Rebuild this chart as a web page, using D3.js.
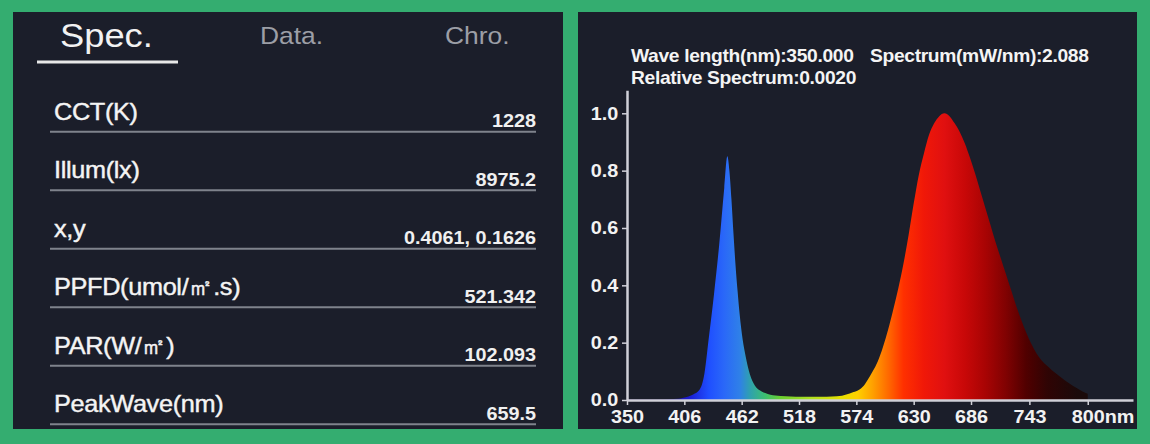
<!DOCTYPE html>
<html><head><meta charset="utf-8">
<script src="https://cdn.jsdelivr.net/npm/d3@7"></script>
<style>
html,body{margin:0;padding:0;background:#34ad70;}
svg{display:block;}
text{font-family:"Liberation Sans",Arial,sans-serif;}
</style></head>
<body>
<svg id="c" width="1150" height="444"></svg>
<script>
// ---------- data ----------
const tabLabels = ["Spec.", "Data.", "Chro."];
const rowLabels = ["CCT(K)", "Illum(lx)", "x,y", "PPFD(umol/㎡.s)", "PAR(W/㎡)", "PeakWave(nm)"];
const rowValues = ["1228", "8975.2", "0.4061, 0.1626", "521.342", "102.093", "659.5"];
const headerLine1 = ["Wave length(nm):350.000", "Spectrum(mW/nm):2.088"];
const headerLine2 = ["Relative Spectrum:0.0020"];
const xTickValues = [350, 406, 462, 518, 574, 630, 686, 743, 800];
const yTickValues = [0, 0.2, 0.4, 0.6, 0.8, 1.0];
const wavelengths = [350,360,370,380,390,400,405,410,415,420,425,430,435,440,445,448,450,452,454,456,458,460,463,466,470,475,480,485,490,500,510,520,530,540,550,560,565,570,575,580,585,590,595,600,605,610,615,620,625,630,635,640,645,650,655,660,665,670,675,680,685,690,695,700,705,710,715,720,725,730,735,740,745,750,755,760,765,770,775,780,785,790,795,800];
const relSpectrum = [0.002,0.002,0.002,0.002,0.003,0.004,0.008,0.012,0.02,0.032,0.08,0.22,0.37,0.54,0.74,0.85,0.80,0.70,0.58,0.47,0.38,0.30,0.21,0.15,0.09,0.05,0.033,0.024,0.018,0.014,0.012,0.011,0.011,0.011,0.012,0.015,0.02,0.026,0.032,0.045,0.07,0.10,0.135,0.185,0.245,0.315,0.39,0.475,0.575,0.685,0.785,0.86,0.925,0.965,0.99,1.0,0.99,0.965,0.935,0.895,0.845,0.79,0.73,0.67,0.61,0.55,0.495,0.44,0.385,0.33,0.28,0.235,0.195,0.162,0.138,0.12,0.104,0.09,0.076,0.063,0.051,0.04,0.03,0.022];
const gradientNm = [380,410,430,445,460,470,485,500,530,560,575,590,605,620,640,660,680,700,720,740,760,790];
const gradientColors = ["#2a0a6a","#1a1ad0","#1f4fff","#2a68f8","#2f80e8","#2fa0b0","#3cc070","#6ad030","#b0e020","#e8e000","#ffd000","#ffa000","#ff6a00","#ff3000","#f01808","#e01010","#c80808","#a80404","#800202","#500000","#300404","#1a0a0a"];

// ---------- style ----------
const SX = 1.1; // horizontal glyph stretch of the source picture
const green = "#34ad70", panel = "#1b1e2a";
const svg = d3.select("#c");
svg.append("rect").attr("width",1150).attr("height",444).attr("fill",green);
svg.append("rect").attr("x",13).attr("y",12).attr("width",550).attr("height",417).attr("fill",panel);
svg.append("rect").attr("x",578).attr("y",12).attr("width",559).attr("height",417).attr("fill",panel);

function stext(g, str, x, y, opts){
  const t = g.append("text").text(str)
    .attr("transform",`translate(${x},${y}) scale(${SX},1)`)
    .attr("fill", opts.fill || "#fff")
    .attr("font-size", opts.size)
    .attr("font-weight", opts.weight || "normal")
    .attr("text-anchor", opts.anchor || "start");
  if (opts.ls) t.attr("letter-spacing", opts.ls);
  return t;
}

// ---------- left panel ----------
const L = svg.append("g");
const tabX = [60, 260, 445];
tabLabels.forEach((s,i)=>{
  stext(L, s, tabX[i], i===0?47:44, {size: i===0?33:24, fill: i===0?"#f2f2f2":"#9c9ea6"});
});
L.append("line").attr("x1",37).attr("x2",178).attr("y1",62).attr("y2",62)
  .attr("stroke","#e8e8e8").attr("stroke-width",3);
const rowLineY = d3.scaleLinear().domain([0,1]).range([131.7,190.2]);
rowLabels.forEach((s,i)=>{
  const ly = rowLineY(i);
  stext(L, s, 54, ly-12, {size:23, fill:"#f4f4f4", ls:-0.3}).attr("stroke","#f4f4f4").attr("stroke-width",0.4);
  stext(L, rowValues[i], 536, ly-4.5, {size:18, weight:"bold", anchor:"end", fill:"#f0f0f0"});
  L.append("line").attr("x1",50).attr("x2",536).attr("y1",ly).attr("y2",ly)
    .attr("stroke","#7f838c").attr("stroke-width",2);
});

// ---------- right panel ----------
const R = svg.append("g");
const x = d3.scaleLinear().domain([350, 844.2]).range([627, 1133]);
const y = d3.scaleLinear().domain([0, 1.08]).range([400, 400-1.08*286.7]);

const defs = svg.append("defs");
const grad = defs.append("linearGradient").attr("id","spec")
  .attr("gradientUnits","userSpaceOnUse")
  .attr("x1", x(350)).attr("x2", x(800)).attr("y1",0).attr("y2",0);
gradientNm.forEach((nm,i)=>{
  grad.append("stop").attr("offset", (nm-350)/450).attr("stop-color", gradientColors[i]);
});

const data = wavelengths.map((w,i)=>({w, v: relSpectrum[i]}));
const area = d3.area().x(d=>x(d.w)).y0(y(0)).y1(d=>y(d.v)).curve(d3.curveMonotoneX);
R.append("path").datum(data).attr("d", area).attr("fill","url(#spec)");

const xAxis = d3.axisBottom(x).tickValues(xTickValues).tickSize(5).tickSizeOuter(0)
  .tickFormat(d=> d===800 ? "800nm" : String(d));
const gx = R.append("g").attr("transform",`translate(0,${y(0)})`).call(xAxis);
gx.select(".domain").attr("stroke","#d0d0d8").attr("stroke-width",2.5);
gx.selectAll(".tick line").attr("stroke","#d0d0d8").attr("stroke-width",1.5);
gx.selectAll(".tick text").attr("fill","#f2f2f2").attr("font-size",18).attr("font-weight","bold")
  .attr("font-family","Liberation Sans, Arial, sans-serif").attr("y",10)
  .attr("transform",`scale(${SX},1)`);
// last label: centre "800" on the tick, "nm" trails after
gx.selectAll(".tick text").filter(d=>d===800).each(function(){
  const tmp = d3.select(this.parentNode).append("text").text("800")
     .attr("font-size",18).attr("font-weight","bold").attr("font-family","Liberation Sans, Arial, sans-serif");
  const w = tmp.node().getComputedTextLength(); tmp.remove();
  d3.select(this).attr("text-anchor","start").attr("x", -w/2);
});

const yAxis = d3.axisLeft(y).tickValues(yTickValues).tickSize(5).tickSizeOuter(0)
  .tickFormat(d3.format(".1f"));
const gy = R.append("g").attr("transform",`translate(${x(350)},0)`).call(yAxis);
gy.select(".domain").attr("stroke","#d0d0d8").attr("stroke-width",2.5);
gy.selectAll(".tick line").attr("stroke","#d0d0d8").attr("stroke-width",1.5);
gy.selectAll(".tick text").attr("fill","#f2f2f2").attr("font-size",18).attr("font-weight","bold")
  .attr("font-family","Liberation Sans, Arial, sans-serif").attr("x",-8)
  .attr("transform",`scale(${SX},1)`);

// header readout
const hx = [631, 870];
headerLine1.forEach((s,i)=> stext(R, s, hx[i], 62, {size:17.5, weight:"bold", ls:-0.3, fill:"#f4f4f4"}));
headerLine2.forEach((s,i)=> stext(R, s, hx[i], 84, {size:17.5, weight:"bold", ls:-0.3, fill:"#f4f4f4"}));
</script>
</body></html>
